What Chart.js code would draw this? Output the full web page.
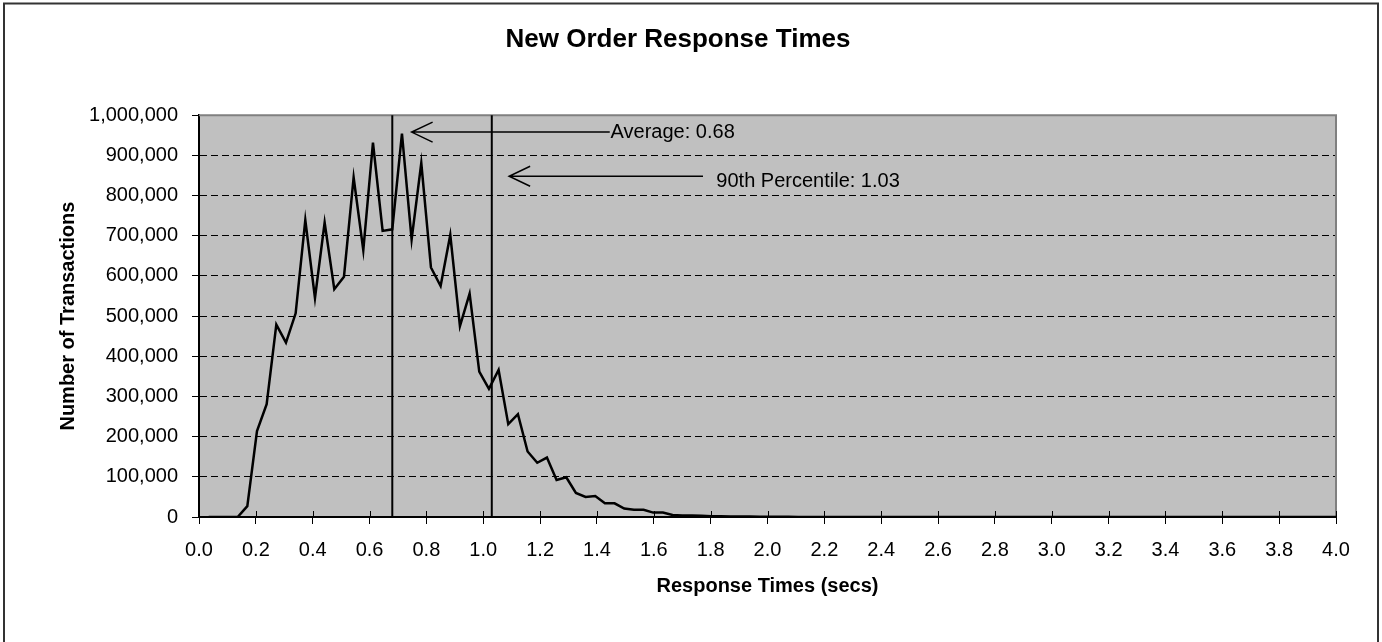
<!DOCTYPE html>
<html>
<head>
<meta charset="utf-8">
<title>New Order Response Times</title>
<script src="https://cdn.jsdelivr.net/npm/chart.js@4/dist/chart.umd.min.js"></script>
<style>
  html, body { margin: 0; padding: 0; background: #fff; }
  #wrap { width: 1382px; height: 642px; }
</style>
</head>
<body>
<div id="wrap"><canvas id="rtChart" width="1382" height="642"></canvas></div>
<script>
// response time buckets (secs)
const times = [
  0.034, 0.068, 0.102, 0.136, 0.170, 0.204, 0.238, 0.272, 0.306, 0.340,
  0.374, 0.408, 0.442, 0.476, 0.510, 0.544, 0.578, 0.612, 0.646, 0.680,
  0.714, 0.748, 0.782, 0.816, 0.850, 0.884, 0.918, 0.952, 0.986, 1.020,
  1.054, 1.088, 1.122, 1.156, 1.190, 1.224, 1.258, 1.292, 1.326, 1.360,
  1.394, 1.428, 1.462, 1.496, 1.530, 1.564, 1.598, 1.632, 1.666, 1.700,
  1.734, 1.768, 1.802, 1.836, 1.870, 1.904, 1.938, 1.972, 2.006, 2.040,
  2.074, 2.108, 2.142, 2.176, 2.210, 2.244, 2.278, 2.312, 2.346, 2.380,
  2.414, 2.448, 2.482, 2.516, 2.550, 2.584, 2.618, 2.652, 2.686, 2.720,
  2.754, 2.788, 2.822, 2.856, 2.890, 2.924, 2.958, 2.992, 3.026, 3.060,
  3.094, 3.128, 3.162, 3.196, 3.230, 3.264, 3.298, 3.332, 3.366, 3.400,
  3.434, 3.468, 3.502, 3.536, 3.570, 3.604, 3.638, 3.672, 3.706, 3.740,
  3.774, 3.808, 3.842, 3.876, 3.910, 3.944, 3.978, 4.000
];

// number of transactions per bucket
const transactions = [
  0, 0, 0, 0, 27000, 214000, 281000, 479000, 434000, 507000,
  739000, 545000, 733000, 567000, 598000, 845000, 664000, 932000, 712000, 716000,
  954000, 691000, 881000, 621000, 575000, 702000, 475000, 556000, 362000, 319000,
  366000, 231000, 256000, 163000, 135000, 148000, 92000, 99000, 60000, 50000,
  52000, 34000, 34000, 21000, 18000, 18000, 11000, 11000, 5000, 4000,
  4000, 3000, 2000, 2000, 1500, 1000, 1000, 800, 600, 500,
  400, 300, 300, 200, 200, 150, 100, 100, 100, 80,
  60, 50, 50, 40, 30, 30, 20, 20, 20, 10,
  10, 10, 10, 10, 5, 5, 5, 5, 5, 5,
  0, 0, 0, 0, 0, 0, 0, 0, 0, 0,
  0, 0, 0, 0, 0, 0, 0, 0, 0, 0,
  0, 0, 0, 0, 0, 0, 0, 0
];

const yTicks = [0, 100000, 200000, 300000, 400000, 500000, 600000, 700000, 800000, 900000, 1000000];

const averageTime = 0.68;
const percentile90 = 1.03;

// annotation arrows, in data units
const markers = [
  { text: "Average: 0.68", tip: [0.748, 958000], tail: [1.445, 958000], label: [1.448, 958000] },
  { text: "90th Percentile: 1.03", tip: [1.091, 848000], tail: [1.773, 848000], label: [1.82, 836000] }
];

const FONT = "'Liberation Sans', Arial, sans-serif";

const framePlugin = {
  id: "frame",
  beforeDraw(chart) {
    const { ctx, chartArea: a } = chart;
    ctx.save();
    ctx.fillStyle = "#fff";
    ctx.fillRect(0, 0, chart.width, chart.height);
    ctx.strokeStyle = "#333";
    ctx.lineWidth = 2;
    ctx.strokeRect(4, 3.5, 1374, 650);
    ctx.fillStyle = "#c0c0c0";
    ctx.fillRect(a.left, a.top, a.right - a.left, a.bottom - a.top);
    ctx.restore();
  },
  beforeDatasetsDraw(chart) {
    const { ctx, chartArea: a, scales } = chart;
    ctx.save();
    // grey border on top and right of plot
    ctx.strokeStyle = "#808080";
    ctx.lineWidth = 2;
    ctx.beginPath();
    ctx.moveTo(a.left, a.top);
    ctx.lineTo(a.right, a.top);
    ctx.lineTo(a.right, a.bottom);
    ctx.stroke();
    // inner halves of the x tick marks
    ctx.strokeStyle = "#000";
    ctx.lineWidth = 1;
    ctx.beginPath();
    scales.x.ticks.forEach(t => {
      const px = Math.round(scales.x.getPixelForValue(t.value)) + 0.5;
      ctx.moveTo(px, a.bottom);
      ctx.lineTo(px, a.bottom - 6);
    });
    ctx.stroke();
    ctx.restore();
  },
  afterDatasetsDraw(chart) {
    const { ctx, chartArea: a, scales: { x, y } } = chart;
    ctx.save();
    ctx.strokeStyle = "#000";
    ctx.lineWidth = 2;
    [averageTime, percentile90].forEach(v => {
      const px = x.getPixelForValue(v);
      ctx.beginPath();
      ctx.moveTo(px, a.top);
      ctx.lineTo(px, a.bottom);
      ctx.stroke();
    });
    ctx.font = "20px " + FONT;
    ctx.fillStyle = "#000";
    ctx.textBaseline = "middle";
    markers.forEach(m => {
      const tx = x.getPixelForValue(m.tip[0]), ty = y.getPixelForValue(m.tip[1]);
      const ex = x.getPixelForValue(m.tail[0]);
      ctx.lineWidth = 1.5;
      ctx.beginPath();
      ctx.moveTo(ex, ty);
      ctx.lineTo(tx, ty);
      ctx.moveTo(tx + 21, ty - 10);
      ctx.lineTo(tx, ty);
      ctx.lineTo(tx + 21, ty + 10);
      ctx.stroke();
      ctx.fillText(m.text, x.getPixelForValue(m.label[0]), y.getPixelForValue(m.label[1]));
    });
    ctx.restore();
  }
};

new Chart(document.getElementById("rtChart").getContext("2d"), {
  type: "line",
  data: {
    datasets: [{
      label: "New Order",
      data: times.map((t, i) => ({ x: t, y: transactions[i] })),
      borderColor: "#000",
      borderWidth: 2.5,
      pointRadius: 0,
      tension: 0,
      fill: false,
    }],
  },
  options: {
    responsive: false,
    animation: false,
    layout: { padding: { top: 10, left: 20, right: 46, bottom: 0 } },
    plugins: {
      legend: { display: false },
      tooltip: { enabled: false },
      title: {
        display: true,
        text: "New Order Response Times",
        color: "#000",
        font: { family: FONT, size: 26, weight: "bold" },
        padding: { top: 14, bottom: 60 },
      },
    },
    scales: {
      x: {
        type: "linear",
        min: 0,
        max: 4,
        afterFit: scale => { scale.height = 125; },
        ticks: {
          stepSize: 0.2,
          color: "#000",
          font: { family: FONT, size: 20 },
          padding: 14,
          maxRotation: 0,
          autoSkip: false,
          callback: v => v.toFixed(1),
        },
        grid: { drawOnChartArea: false, tickLength: 7, tickColor: "#000", tickWidth: 1 },
        border: { color: "#000", width: 2 },
        title: {
          display: true,
          text: "Response Times (secs)",
          color: "#000",
          font: { family: FONT, size: 20, weight: "bold" },
          padding: { top: 4, bottom: 44 },
        },
      },
      y: {
        min: 0,
        max: 1000000,
        afterFit: scale => { scale.width = 179; },
        afterBuildTicks: scale => { scale.ticks = yTicks.map(v => ({ value: v })); },
        ticks: {
          color: "#000",
          font: { family: FONT, size: 20 },
          padding: 14,
          callback: v => v.toLocaleString("en-US"),
        },
        grid: {
          color: c => (c.tick && (c.tick.value === 0 || c.tick.value === 1000000)) ? "rgba(0,0,0,0)" : "#000",
          tickColor: "#000",
          tickLength: 7,
          lineWidth: 1,
        },
        border: { color: "#000", width: 2, dash: [7, 4] },
        title: {
          display: true,
          text: "Number of Transactions",
          color: "#000",
          font: { family: FONT, size: 20, weight: "bold" },
          padding: { top: 36, bottom: 0 },
        },
      },
    },
  },
  plugins: [framePlugin],
});
</script>
</body>
</html>
